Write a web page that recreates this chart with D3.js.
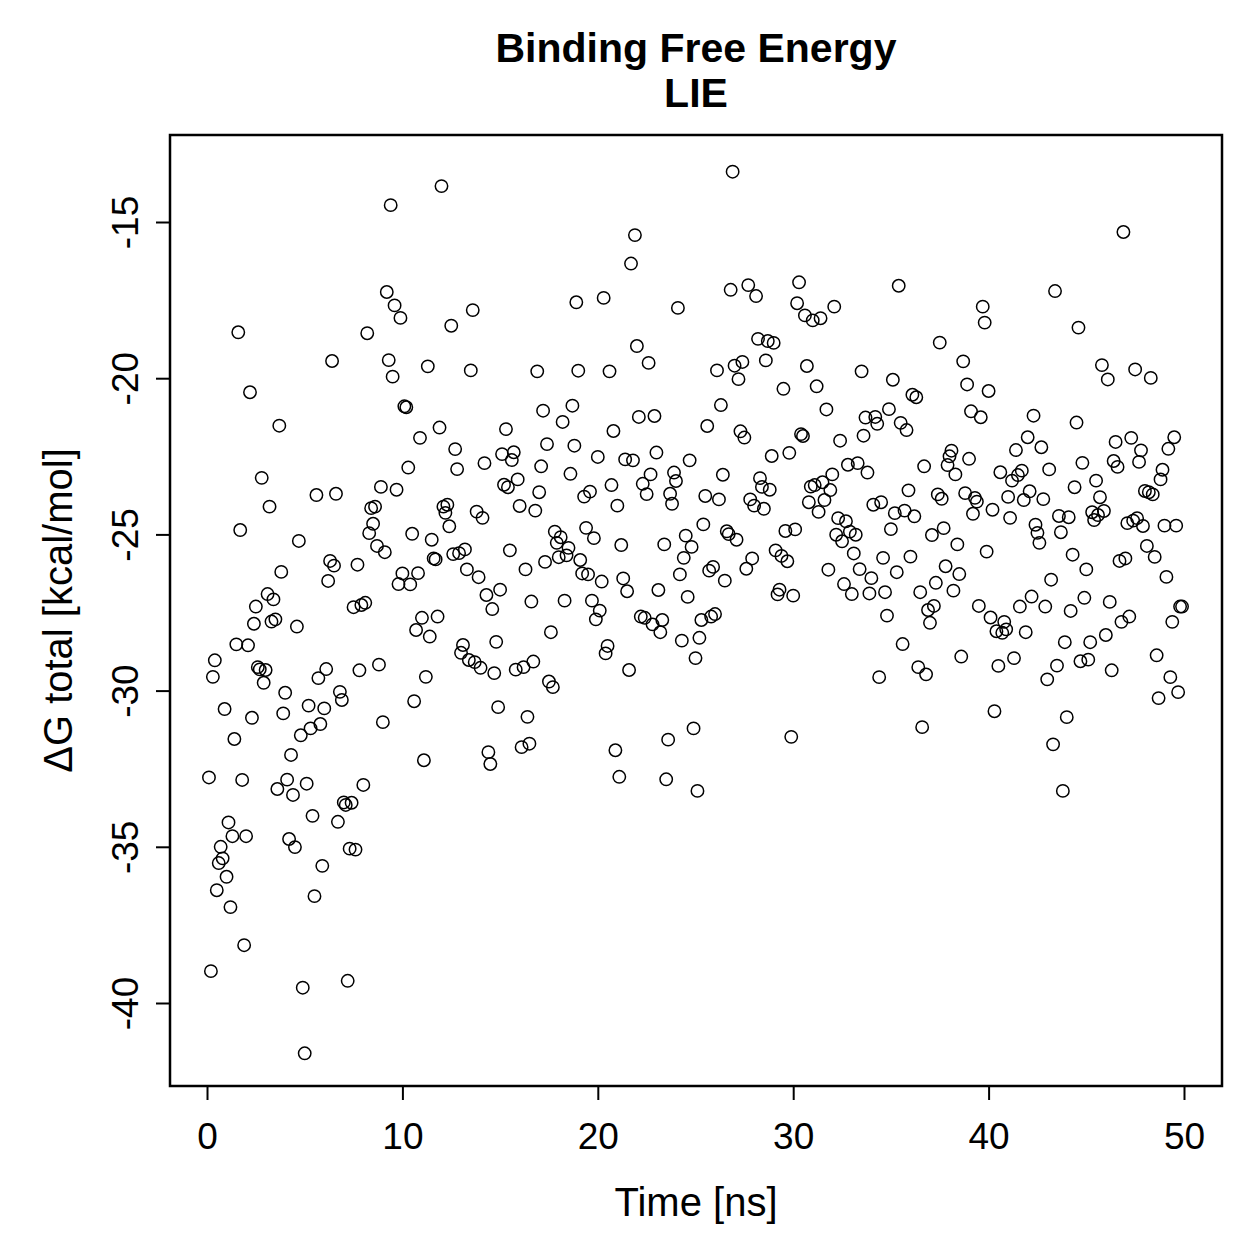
<!DOCTYPE html>
<html>
<head>
<meta charset="utf-8">
<script src="https://cdn.jsdelivr.net/npm/d3@7"></script>
<style>
html,body{margin:0;padding:0;background:#fff;}
svg{display:block;}
text{font-family:"Liberation Sans",Arial,Helvetica,sans-serif;fill:#000;}
</style>
</head>
<body>
<svg id="chart" width="1259" height="1259"></svg>
<script>
const titleLines = ["Binding Free Energy", "LIE"];
const xLabel = "Time [ns]";
const yLabel = "\u0394G total [kcal/mol]";
const xTicks = [0, 10, 20, 30, 40, 50];
const yTicks = [-40, -35, -30, -25, -20, -15];

const time = [
0.1,0.2,0.3,0.4,0.5,0.6,0.7,0.8,0.9,1.0,1.1,1.2,1.3,1.4,1.5,1.6,1.7,1.8,1.9,2.0,
2.1,2.2,2.3,2.4,2.5,2.6,2.7,2.8,2.9,3.0,3.1,3.2,3.3,3.4,3.5,3.6,3.7,3.8,3.9,4.0,
4.1,4.2,4.3,4.4,4.5,4.6,4.7,4.8,4.9,5.0,5.1,5.2,5.3,5.4,5.5,5.6,5.7,5.8,5.9,6.0,
6.1,6.2,6.3,6.4,6.5,6.6,6.7,6.8,6.9,7.0,7.1,7.2,7.3,7.4,7.5,7.6,7.7,7.8,7.9,8.0,
8.1,8.2,8.3,8.4,8.5,8.6,8.7,8.8,8.9,9.0,9.1,9.2,9.3,9.4,9.5,9.6,9.7,9.8,9.9,10.0,
10.1,10.2,10.3,10.4,10.5,10.6,10.7,10.8,10.9,11.0,11.1,11.2,11.3,11.4,11.5,11.6,11.7,11.8,11.9,12.0,
12.1,12.2,12.3,12.4,12.5,12.6,12.7,12.8,12.9,13.0,13.1,13.2,13.3,13.4,13.5,13.6,13.7,13.8,13.9,14.0,
14.1,14.2,14.3,14.4,14.5,14.6,14.7,14.8,14.9,15.0,15.1,15.2,15.3,15.4,15.5,15.6,15.7,15.8,15.9,16.0,
16.1,16.2,16.3,16.4,16.5,16.6,16.7,16.8,16.9,17.0,17.1,17.2,17.3,17.4,17.5,17.6,17.7,17.8,17.9,18.0,
18.1,18.2,18.3,18.4,18.5,18.6,18.7,18.8,18.9,19.0,19.1,19.2,19.3,19.4,19.5,19.6,19.7,19.8,19.9,20.0,
20.1,20.2,20.3,20.4,20.5,20.6,20.7,20.8,20.9,21.0,21.1,21.2,21.3,21.4,21.5,21.6,21.7,21.8,21.9,22.0,
22.1,22.2,22.3,22.4,22.5,22.6,22.7,22.8,22.9,23.0,23.1,23.2,23.3,23.4,23.5,23.6,23.7,23.8,23.9,24.0,
24.1,24.2,24.3,24.4,24.5,24.6,24.7,24.8,24.9,25.0,25.1,25.2,25.3,25.4,25.5,25.6,25.7,25.8,25.9,26.0,
26.1,26.2,26.3,26.4,26.5,26.6,26.7,26.8,26.9,27.0,27.1,27.2,27.3,27.4,27.5,27.6,27.7,27.8,27.9,28.0,
28.1,28.2,28.3,28.4,28.5,28.6,28.7,28.8,28.9,29.0,29.1,29.2,29.3,29.4,29.5,29.6,29.7,29.8,29.9,30.0,
30.1,30.2,30.3,30.4,30.5,30.6,30.7,30.8,30.9,31.0,31.1,31.2,31.3,31.4,31.5,31.6,31.7,31.8,31.9,32.0,
32.1,32.2,32.3,32.4,32.5,32.6,32.7,32.8,32.9,33.0,33.1,33.2,33.3,33.4,33.5,33.6,33.7,33.8,33.9,34.0,
34.1,34.2,34.3,34.4,34.5,34.6,34.7,34.8,34.9,35.0,35.1,35.2,35.3,35.4,35.5,35.6,35.7,35.8,35.9,36.0,
36.1,36.2,36.3,36.4,36.5,36.6,36.7,36.8,36.9,37.0,37.1,37.2,37.3,37.4,37.5,37.6,37.7,37.8,37.9,38.0,
38.1,38.2,38.3,38.4,38.5,38.6,38.7,38.8,38.9,39.0,39.1,39.2,39.3,39.4,39.5,39.6,39.7,39.8,39.9,40.0,
40.1,40.2,40.3,40.4,40.5,40.6,40.7,40.8,40.9,41.0,41.1,41.2,41.3,41.4,41.5,41.6,41.7,41.8,41.9,42.0,
42.1,42.2,42.3,42.4,42.5,42.6,42.7,42.8,42.9,43.0,43.1,43.2,43.3,43.4,43.5,43.6,43.7,43.8,43.9,44.0,
44.1,44.2,44.3,44.4,44.5,44.6,44.7,44.8,44.9,45.0,45.1,45.2,45.3,45.4,45.5,45.6,45.7,45.8,45.9,46.0,
46.1,46.2,46.3,46.4,46.5,46.6,46.7,46.8,46.9,47.0,47.1,47.2,47.3,47.4,47.5,47.6,47.7,47.8,47.9,48.0,
48.1,48.2,48.3,48.4,48.5,48.6,48.7,48.8,48.9,49.0,49.1,49.2,49.3,49.4,49.5,49.6,49.7,49.8,49.9
];

const dG = [
-32.78,-38.98,-29.56,-29.03,-36.39,-35.52,-35.00,-35.37,-30.59,-35.96,-34.22,-36.93,-34.66,-31.55,-28.52,-18.53,-24.86,-32.86,-38.15,-34.66,
-28.55,-20.45,-30.87,-27.86,-27.31,-29.25,-29.32,-23.19,-29.75,-29.34,-26.91,-24.11,-27.79,-27.08,-27.72,-33.15,-21.52,-26.20,-30.73,-30.07,
-32.85,-34.75,-32.06,-33.34,-35.01,-27.95,-25.21,-31.43,-39.51,-41.61,-32.98,-30.48,-31.21,-34.01,-36.58,-23.74,-29.60,-31.07,-35.61,-30.57,
-29.31,-26.49,-25.85,-19.45,-26.00,-23.70,-34.20,-30.04,-30.30,-33.58,-33.66,-39.29,-35.06,-33.59,-27.33,-35.09,-25.97,-29.35,-27.26,-33.02,
-27.19,-18.56,-24.96,-24.16,-24.66,-24.11,-25.37,-29.17,-23.48,-31.01,-25.57,-17.24,-19.42,-14.46,-19.95,-17.67,-23.57,-26.59,-18.07,-26.25,
-20.90,-20.93,-22.86,-26.60,-24.98,-30.34,-28.06,-26.24,-21.91,-27.67,-32.23,-29.56,-19.62,-28.27,-25.17,-25.77,-25.80,-27.63,-21.58,-13.85,
-24.11,-24.31,-24.05,-24.74,-18.32,-25.63,-22.27,-22.91,-25.60,-28.79,-28.54,-25.48,-26.12,-29.02,-19.75,-17.82,-29.09,-24.27,-26.37,-29.27,
-24.47,-22.72,-26.94,-31.97,-32.35,-27.39,-29.44,-28.44,-30.53,-26.77,-22.43,-23.41,-21.63,-23.49,-25.51,-22.62,-22.37,-29.33,-23.24,-24.09,
-31.81,-29.25,-26.12,-30.84,-31.70,-27.15,-29.07,-24.24,-19.78,-23.65,-22.82,-21.04,-25.88,-22.11,-29.71,-28.13,-29.89,-24.91,-25.27,-25.73,
-25.09,-21.40,-27.12,-25.67,-25.43,-23.06,-20.88,-22.16,-17.57,-19.76,-25.82,-26.25,-23.79,-24.79,-26.28,-23.63,-27.12,-25.12,-27.72,-22.52,
-27.44,-26.51,-17.43,-28.81,-28.57,-19.78,-23.42,-21.69,-31.91,-24.08,-32.76,-25.34,-26.41,-22.60,-26.82,-29.34,-16.33,-22.63,-15.42,-18.97,
-21.24,-27.63,-23.38,-27.67,-23.71,-19.51,-23.08,-27.88,-21.21,-22.38,-26.78,-28.13,-27.74,-25.32,-32.84,-31.57,-23.70,-24.02,-23.02,-23.29,
-17.75,-26.28,-28.40,-25.75,-25.04,-27.00,-22.63,-25.40,-31.21,-28.96,-33.21,-28.31,-27.74,-24.68,-23.77,-21.53,-26.16,-27.63,-26.04,-27.55,
-19.75,-23.88,-20.86,-23.09,-26.48,-24.90,-24.99,-17.17,-13.39,-19.60,-25.17,-20.03,-21.70,-19.48,-21.90,-26.10,-17.02,-23.88,-25.77,-24.08,
-17.37,-18.74,-23.20,-23.48,-24.18,-19.43,-18.81,-23.57,-22.49,-18.87,-25.51,-26.92,-26.77,-25.69,-20.34,-24.89,-25.86,-22.39,-31.48,-26.96,
-24.84,-17.60,-16.93,-21.79,-21.85,-17.99,-19.61,-23.97,-23.47,-18.15,-23.42,-20.26,-24.28,-18.08,-23.33,-23.90,-21.00,-26.13,-23.58,-23.08,
-17.71,-25.01,-24.48,-22.00,-25.22,-26.59,-24.58,-22.77,-24.91,-26.91,-25.61,-25.01,-22.72,-26.11,-19.78,-21.84,-21.26,-23.02,-26.89,-26.40,
-24.05,-21.24,-21.46,-29.57,-23.97,-25.75,-26.85,-27.60,-20.99,-24.83,-20.05,-24.32,-26.21,-17.04,-21.43,-28.51,-24.24,-21.66,-23.59,-25.71,
-20.53,-24.42,-20.61,-29.25,-26.85,-31.17,-22.82,-29.48,-27.42,-27.83,-25.02,-27.29,-26.55,-23.72,-18.86,-23.86,-24.80,-26.02,-22.78,-22.50,
-22.32,-26.80,-23.08,-25.32,-26.27,-28.91,-19.46,-23.68,-20.20,-22.58,-21.06,-24.34,-23.83,-23.95,-27.29,-21.25,-17.71,-18.22,-25.55,-20.41,
-27.66,-24.21,-30.66,-28.10,-29.21,-23.01,-28.15,-27.80,-28.04,-23.80,-24.47,-23.28,-28.96,-22.30,-23.10,-27.31,-22.96,-23.90,-28.13,-21.89,
-23.62,-26.99,-21.20,-24.69,-24.95,-25.27,-22.21,-23.87,-27.31,-29.64,-22.92,-26.45,-31.72,-17.21,-29.20,-24.41,-24.93,-33.21,-28.45,-30.85,
-24.45,-27.45,-25.65,-23.49,-21.42,-18.38,-29.06,-22.71,-27.03,-26.12,-29.01,-28.45,-24.29,-24.54,-23.28,-24.38,-23.81,-19.58,-24.25,-28.22,
-20.04,-27.16,-29.35,-22.65,-22.04,-22.84,-25.85,-27.80,-15.32,-25.77,-24.64,-27.63,-21.91,-24.56,-19.72,-24.48,-22.68,-22.31,-24.73,-23.61,
-25.37,-23.65,-19.99,-23.72,-25.72,-28.87,-30.24,-23.24,-22.93,-24.72,-26.36,-22.26,-29.57,-27.80,-21.89,-24.72,-30.05,-27.31,-27.31
];

const W = 1259, H = 1259;
const plot = {left: 170, right: 1222, top: 135, bottom: 1086};

const svg = d3.select("#chart");
svg.append("rect").attr("x",0).attr("y",0).attr("width",W).attr("height",H).attr("fill","#fff");

const x = d3.scaleLinear().domain([-1.894, 51.945]).range([plot.left, plot.right]);
const y = d3.scaleLinear().domain([-42.657, -12.215]).range([plot.bottom, plot.top]);

const data = time.map((t, i) => ({t, v: dG[i]}));

// points
svg.append("g")
  .selectAll("circle")
  .data(data)
  .join("circle")
  .attr("cx", d => x(d.t))
  .attr("cy", d => y(d.v))
  .attr("r", 6.2)
  .attr("fill", "none")
  .attr("stroke", "#000")
  .attr("stroke-width", 1.5);

// x axis
const xAxis = d3.axisBottom(x).tickValues(xTicks).tickSize(14).tickPadding(8).tickFormat(d3.format("d"));
const gx = svg.append("g").attr("transform", `translate(0,${plot.bottom})`).call(xAxis);
gx.select(".domain").remove();
gx.selectAll("line").attr("stroke", "#000").attr("stroke-width", 2);
gx.selectAll("text").attr("font-size", 37).attr("font-family", "Liberation Sans, Arial, sans-serif").attr("fill","#000").attr("dy", "1.1em");

// y axis
const yAxis = d3.axisLeft(y).tickValues(yTicks).tickSize(14).tickFormat(d => String(d));
const gy = svg.append("g").attr("transform", `translate(${plot.left},0)`).call(yAxis);
gy.select(".domain").remove();
gy.selectAll("line").attr("stroke", "#000").attr("stroke-width", 2);
gy.selectAll("text")
  .attr("font-size", 37)
  .attr("font-family", "Liberation Sans, Arial, sans-serif")
  .attr("fill","#000")
  .attr("x", null).attr("dy", null)
  .attr("text-anchor", "middle")
  .attr("transform", "translate(-32,0) rotate(-90)");

// box
svg.append("rect")
  .attr("x", plot.left).attr("y", plot.top)
  .attr("width", plot.right - plot.left).attr("height", plot.bottom - plot.top)
  .attr("fill", "none").attr("stroke", "#000").attr("stroke-width", 2.5);

// labels
svg.append("text")
  .attr("x", (plot.left + plot.right) / 2).attr("y", 1216)
  .attr("text-anchor", "middle").attr("font-size", 40)
  .text(xLabel);

svg.append("text")
  .attr("transform", `translate(72,${(plot.top + plot.bottom) / 2}) rotate(-90)`)
  .attr("text-anchor", "middle").attr("font-size", 40)
  .text(yLabel);

svg.selectAll("text.title")
  .data(titleLines)
  .join("text")
  .attr("class", "title")
  .attr("x", (plot.left + plot.right) / 2)
  .attr("y", (d, i) => 62 + i * 45)
  .attr("text-anchor", "middle")
  .attr("font-size", 41)
  .attr("font-weight", "bold")
  .text(d => d);
</script>
</body>
</html>
